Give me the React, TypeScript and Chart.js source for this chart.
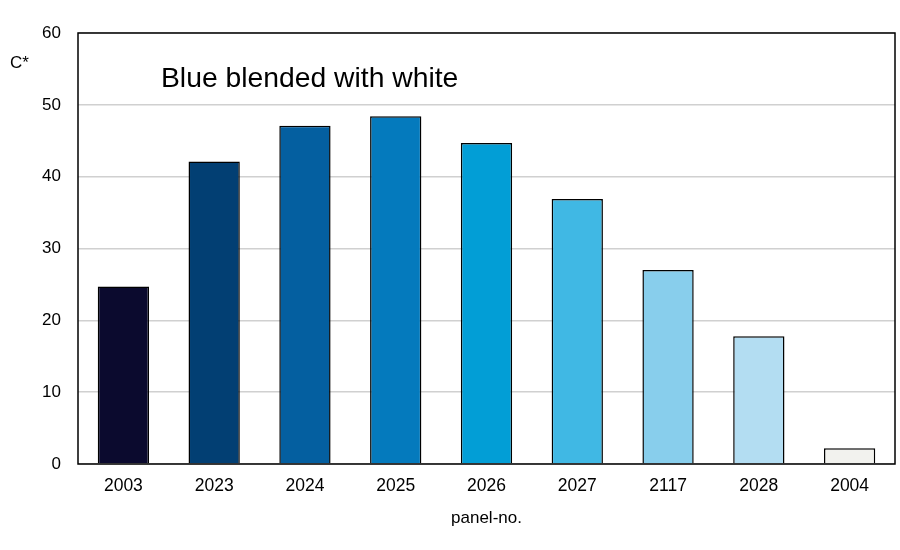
import React, { useEffect, useRef } from "react";
import { Chart, registerables } from "chart.js";

Chart.register(...registerables);

const categories = ["2003", "2023", "2024", "2025", "2026", "2027", "2117", "2028", "2004"];
const values = [24.7, 42.1, 47.1, 48.4, 44.7, 36.9, 27.0, 17.8, 2.2];
const barColors = ["#0b0a2e", "#023f73", "#045fa0", "#047abd", "#029ed6", "#40b8e4", "#88ceec", "#b3ddf2", "#f2f2ee"];
const yTicks = [0, 10, 20, 30, 40, 50, 60];
const chartTitle = "Blue blended with white";
const yTitle = "C*";
const xTitle = "panel-no.";

const FONT = "'Liberation Sans', Arial, sans-serif";

const overlay = {
  id: "overlay",
  afterDraw(chart: any) {
    const { ctx, chartArea } = chart;
    ctx.save();
    ctx.strokeStyle = "#000";
    ctx.lineWidth = 1.5;
    ctx.strokeRect(chartArea.left, chartArea.top, chartArea.right - chartArea.left, chartArea.bottom - chartArea.top);
    ctx.fillStyle = "#000";
    ctx.textBaseline = "alphabetic";
    ctx.textAlign = "left";
    ctx.font = `28.3px ${FONT}`;
    ctx.fillText(chartTitle, 161, 87);
    ctx.font = `17px ${FONT}`;
    ctx.fillText(yTitle, 10, 68);
    ctx.textAlign = "center";
    ctx.font = `17px ${FONT}`;
    ctx.fillText(xTitle, (chartArea.left + chartArea.right) / 2, 523);
    ctx.restore();
  },
};

export default function App() {
  const ref = useRef<HTMLCanvasElement>(null);
  useEffect(() => {
    const chart = new Chart(ref.current!, {
      type: "bar",
      data: {
        labels: categories,
        datasets: [
          {
            data: values,
            backgroundColor: barColors,
            borderColor: "#000",
            borderWidth: 1.5,
            categoryPercentage: 1,
            barPercentage: 0.565,
          },
        ],
      },
      options: {
        animation: false,
        responsive: false,
        maintainAspectRatio: false,
        layout: { padding: { top: 33, right: 5, bottom: 0, left: 0 } },
        plugins: { legend: { display: false }, tooltip: { enabled: false } },
        scales: {
          x: {
            grid: { display: false, drawTicks: false },
            border: { display: false },
            ticks: { color: "#000", font: { family: FONT, size: 17.5 }, padding: 12 },
            afterFit: (s: any) => { s.height = 86; },
          },
          y: {
            min: 0,
            max: 60,
            afterBuildTicks: (s: any) => { s.ticks = yTicks.map((v) => ({ value: v })); },
            grid: { color: "#d0d0d0", lineWidth: 1.5, drawTicks: false },
            border: { display: false },
            ticks: { color: "#000", font: { family: FONT, size: 17 }, padding: 17 },
            afterFit: (s: any) => { s.width = 78; },
          },
        },
      },
      plugins: [overlay],
    });
    return () => chart.destroy();
  }, []);
  return (
    <div style={{ position: "fixed", left: 0, top: 0, width: 900, height: 550, background: "#fff" }}>
      <canvas ref={ref} width={900} height={550} />
    </div>
  );
}
